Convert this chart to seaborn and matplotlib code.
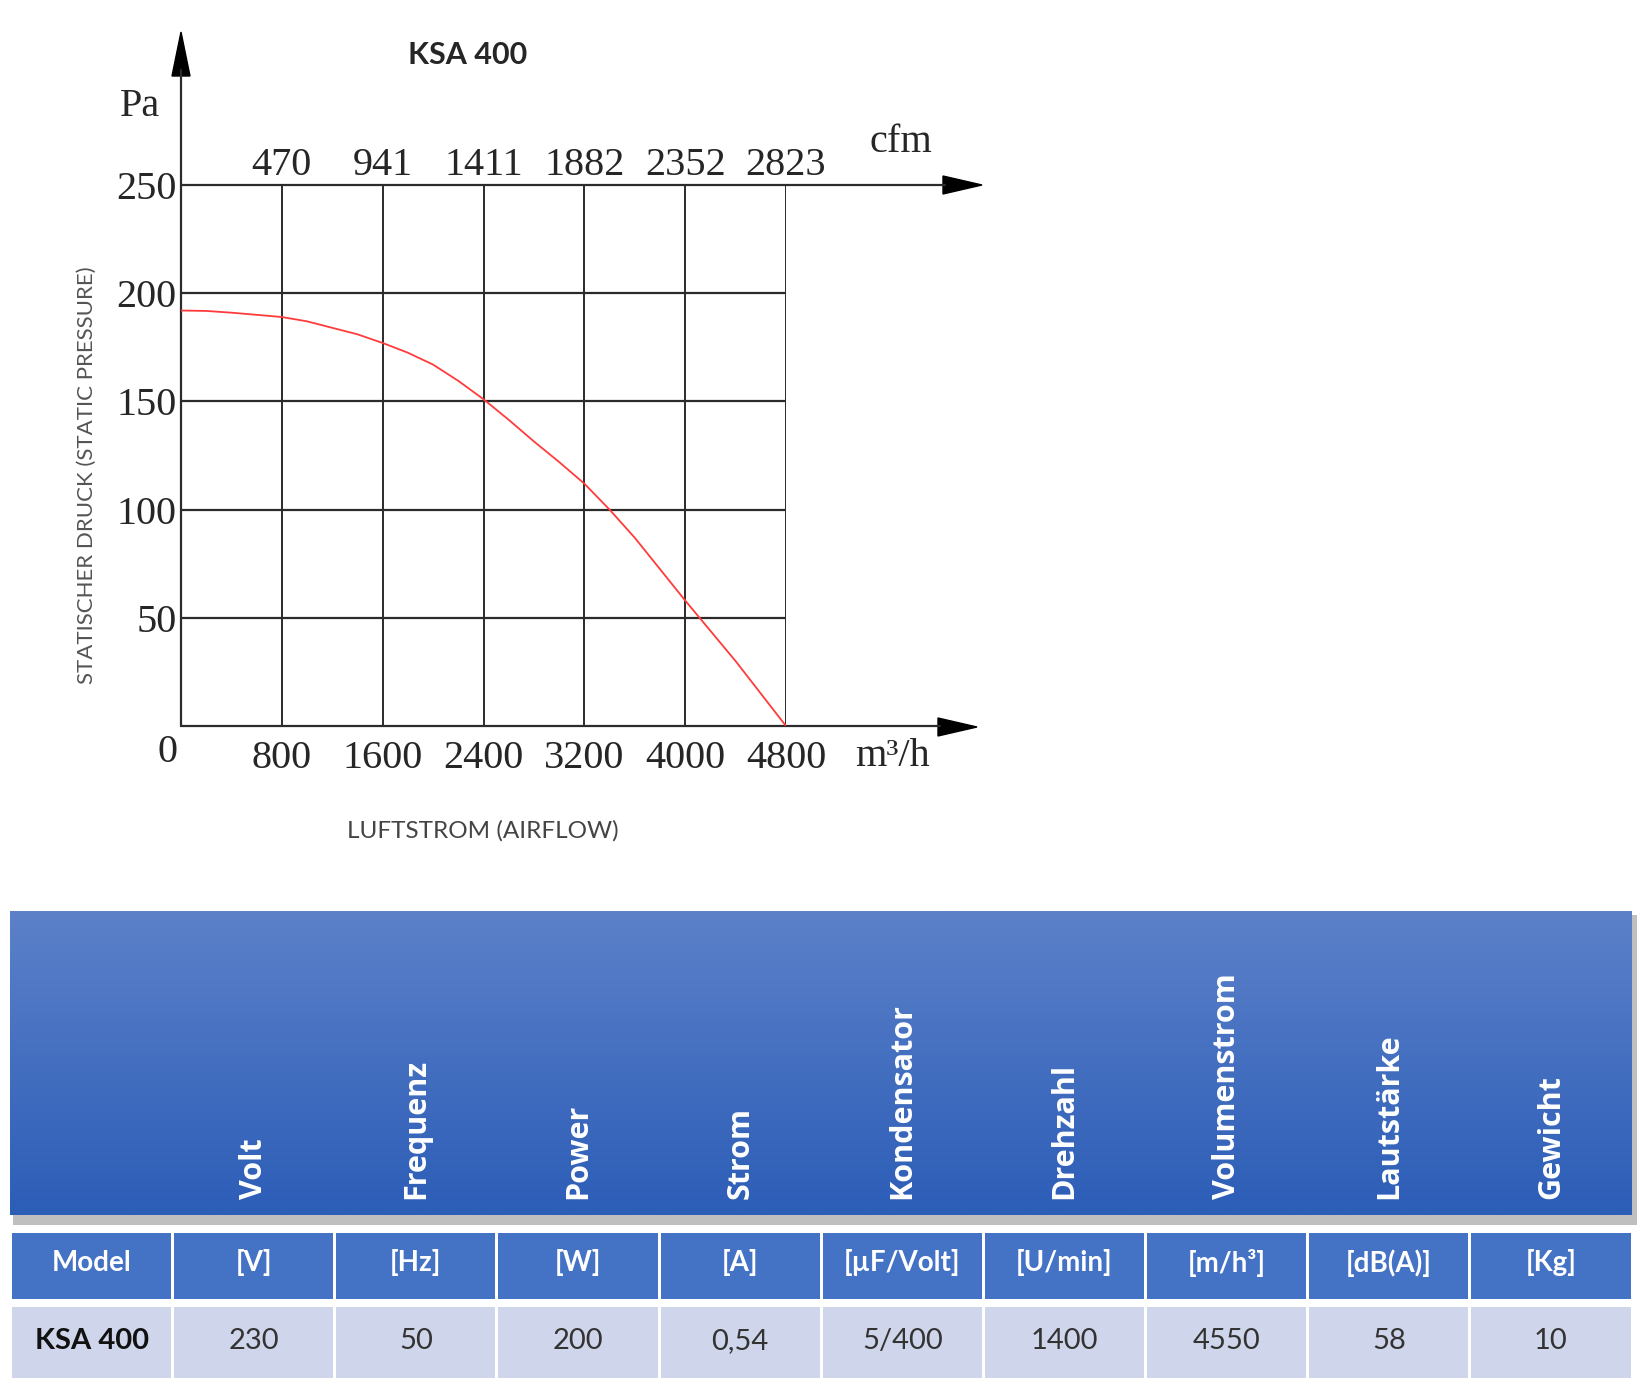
import numpy as np
import matplotlib
matplotlib.use("Agg")
import matplotlib.pyplot as plt
from matplotlib.patches import Polygon, Rectangle
import seaborn as sns

# fan curve
airflow = [0, 200, 400, 600, 800, 1000, 1200, 1400, 1600, 1800, 2000, 2200, 2400,
           2600, 2800, 3000, 3200, 3400, 3600, 3800, 4000, 4200, 4400, 4600, 4800]
pressure = [192, 191.8, 191, 190, 189, 187, 184, 181, 177, 172.5, 167, 159.5, 151,
            141.5, 131.5, 122, 112, 100, 87, 72.5, 58, 44, 30, 15, 0]

x_ticks = [800, 1600, 2400, 3200, 4000, 4800]
cfm_labels = ["470", "941", "1411", "1882", "2352", "2823"]
y_ticks = [50, 100, 150, 200, 250]

# spec table
header_names = ["", "Volt", "Frequenz", "Power", "Strom", "Kondensator",
                "Drehzahl", "Volumenstrom", "Lautstärke", "Gewicht"]
units = ["Model", "[V]", "[Hz]", "[W]", "[A]", "[µF/Volt]", "[U/min]",
         "[m/h³]", "[dB(A)]", "[Kg]"]
row_values = ["KSA 400", "230", "50", "200", "0,54", "5/400", "1400",
              "4550", "58", "10"]

sns.set_style("white")
plt.rcParams["font.family"] = ["Lato", "DejaVu Sans"]

W, H = 1649, 1400
fig = plt.figure(figsize=(W / 100, H / 100), dpi=100)

# background axes in pixel coordinates
bg = fig.add_axes([0, 0, 1, 1])
bg.set_xlim(0, W)
bg.set_ylim(H, 0)
bg.axis("off")

# chart area in pixels
L, R, T, B = 181, 786, 185, 726
ax = fig.add_axes([L / W, 1 - B / H, (R - L) / W, (B - T) / H])
ax.patch.set_alpha(0)
ax.set_xlim(0, 4800)
ax.set_ylim(0, 250)
for s in ax.spines.values():
    s.set_visible(False)

px2x = lambda px: (px - L) / (R - L) * 4800
px2y = lambda py: (B - py) / (B - T) * 250

gc = "#2b2b2b"
for x in x_ticks:
    ax.plot([x, x], [0, 250], color=gc, lw=1.4)
for y in y_ticks[:-1]:
    ax.plot([0, 4800], [y, y], color=gc, lw=1.6)
ax.plot([0, px2x(945)], [250, 250], color=gc, lw=1.6, clip_on=False)
ax.plot([0, px2x(940)], [0, 0], color=gc, lw=1.6, clip_on=False)
ax.plot([0, 0], [0, px2y(70)], color=gc, lw=1.6, clip_on=False)

# arrow heads
bg.add_patch(Polygon([(181, 32), (172, 76), (190, 76)], closed=True, color="black"))
bg.add_patch(Polygon([(982, 185), (943, 176), (943, 194)], closed=True, color="black"))
bg.add_patch(Polygon([(977, 727), (938, 718), (938, 736)], closed=True, color="black"))

sns.lineplot(x=airflow, y=pressure, ax=ax, color="#ff3b3b", lw=1.3)

serif = ["Liberation Serif", "DejaVu Serif"]
fs = 29
ax.set_xticks(x_ticks, [str(v) for v in x_ticks], fontfamily=serif, fontsize=fs)
ax.set_yticks(y_ticks, [str(v) for v in y_ticks], fontfamily=serif, fontsize=fs)
ax.tick_params(axis="x", length=0, pad=10)
ax.tick_params(axis="y", length=0, pad=3)
top = ax.secondary_xaxis("top")
top.set_xticks(x_ticks, cfm_labels, fontfamily=serif, fontsize=fs)
top.tick_params(length=0, pad=1)
for s in top.spines.values():
    s.set_visible(False)

bg.text(168, 752, "0", fontfamily=serif, fontsize=fs, ha="center", va="center")
bg.text(140, 107, "Pa", fontfamily=serif, fontsize=fs, ha="center", va="center")
bg.text(901, 142, "cfm", fontfamily=serif, fontsize=fs, ha="center", va="center")
bg.text(892, 757, "m³/h", fontfamily=serif, fontsize=fs, ha="center", va="center")

bg.text(468, 55, "KSA 400", fontsize=22, fontweight="bold", ha="center", va="center")
bg.text(87, 475, "STATISCHER DRUCK (STATIC PRESSURE)", fontsize=16, color="#555555",
        rotation=90, ha="center", va="center")
bg.text(483, 831, "LUFTSTROM (AIRFLOW)", fontsize=17.5, color="#444444",
        ha="center", va="center")

# ---- table ----
x0, x1 = 10.5, 1632
cw = (x1 - x0) / len(header_names)
hy0, hy1 = 911, 1215

bg.add_patch(Rectangle((x0 + 3, hy0 + 4), x1 - x0 + 2, hy1 - hy0 + 6,
                       color="#8c8c8c", alpha=0.55, lw=0))
top_c = np.array([92, 129, 201]) / 255
bot_c = np.array([44, 93, 183]) / 255
t = np.linspace(0, 1, 200)[:, None, None]
grad = top_c * (1 - t) + bot_c * t
bg.imshow(grad, extent=[x0, x1, hy1, hy0], origin="upper", aspect="auto", zorder=2)
bg.set_xlim(0, W)
bg.set_ylim(H, 0)

for i, name in enumerate(header_names):
    cx = x0 + cw * (i + 0.5)
    if name:
        bg.text(cx, 1199, name, rotation=90, ha="center", va="bottom", color="white",
                fontsize=22, fontweight="bold", fontfamily=["Open Sans", "DejaVu Sans"],
                zorder=3)
    bg.add_patch(Rectangle((x0 + cw * i + 1.5, 1233), cw - 3, 66, color="#4472c4", lw=0))
    bg.text(cx, 1263, units[i], ha="center", va="center", color="white",
            fontsize=20, fontweight="bold")
    bg.add_patch(Rectangle((x0 + cw * i + 1.5, 1307), cw - 3, 71, color="#cfd5ea", lw=0))
    bg.text(cx, 1341, row_values[i], ha="center", va="center",
            color="#111111" if i == 0 else "#333333",
            fontsize=21, fontweight="bold" if i == 0 else "normal")

fig.savefig("out.png", dpi=100)
